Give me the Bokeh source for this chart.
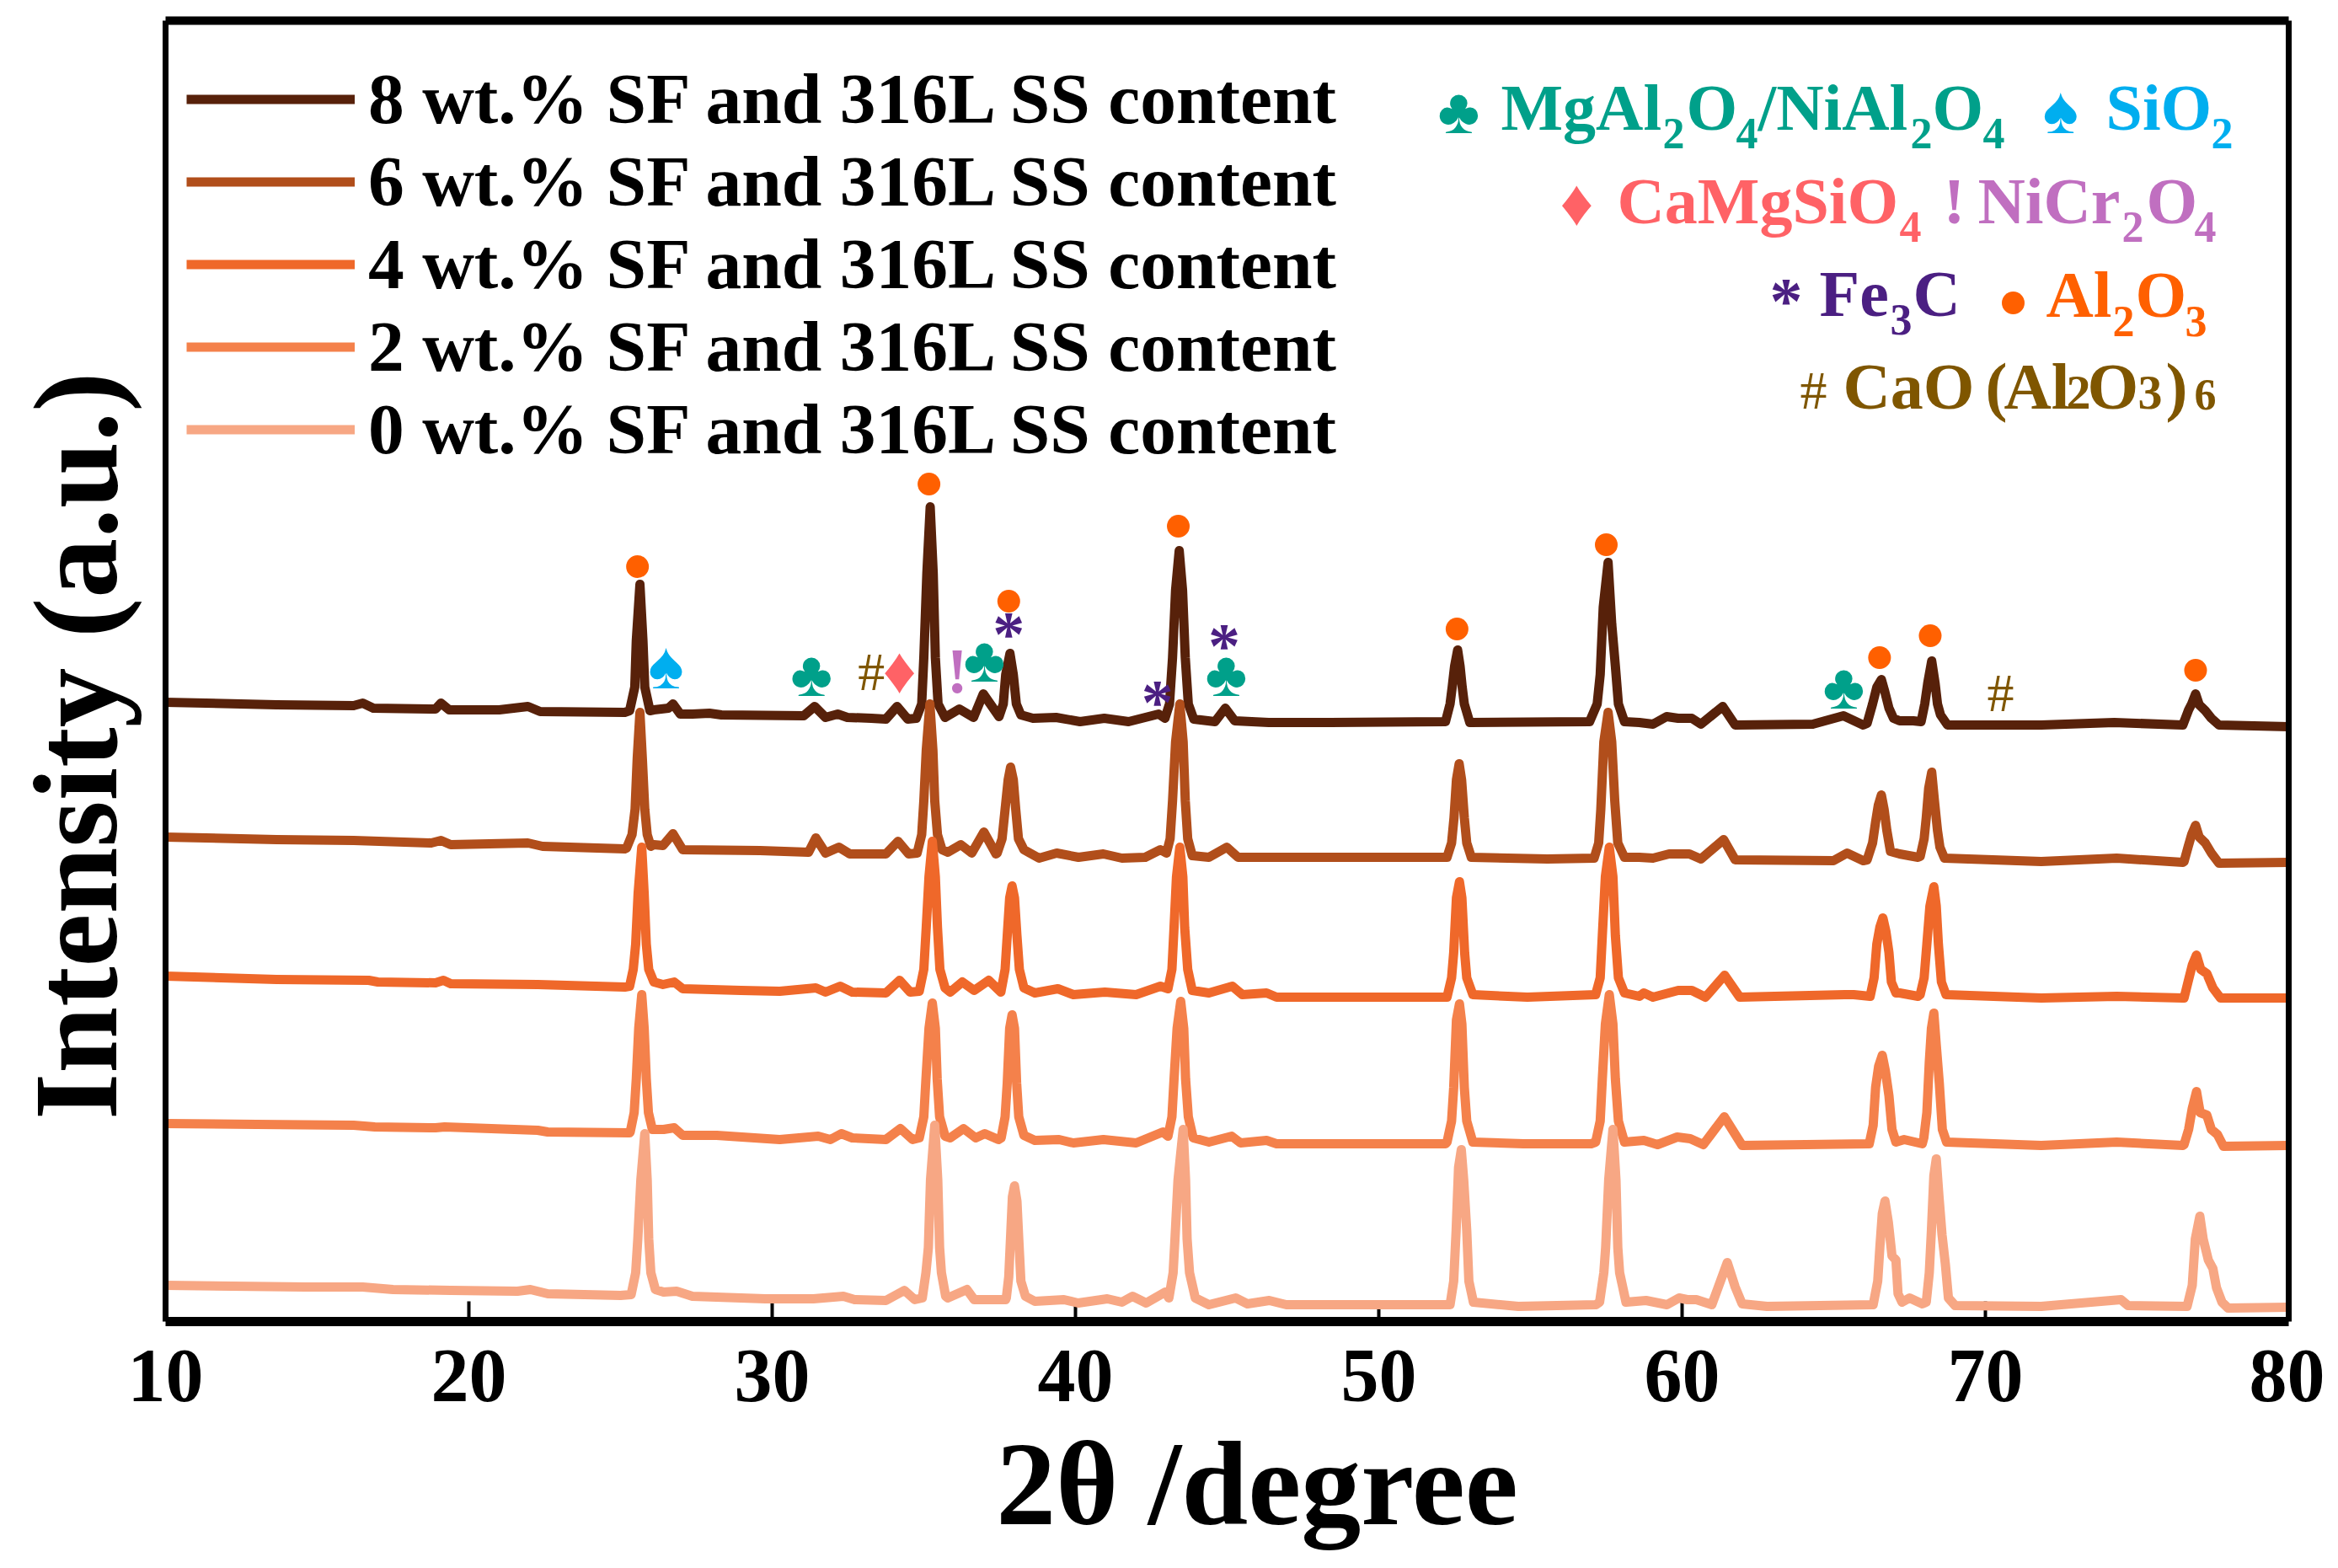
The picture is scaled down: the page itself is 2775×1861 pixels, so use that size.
from bokeh.plotting import figure
from bokeh.models import Range1d, FixedTicker, LinearAxis, Legend, LegendItem
from bokeh.core.properties import value
from bokeh.embed import file_html
from bokeh.resources import INLINE

SERIF = "Liberation Serif"

labels = ["8 wt.% SF and 316L SS content", "6 wt.% SF and 316L SS content",
          "4 wt.% SF and 316L SS content", "2 wt.% SF and 316L SS content",
          "0 wt.% SF and 316L SS content"]
colors = ["#57210A", "#B14E1B", "#EF682A", "#F4814B", "#F7A784"]
x_ticks = [10, 20, 30, 40, 50, 60, 70, 80]

series_8 = [(10, 735), (13.66, 732), (16.2, 731), (16.5, 734), (16.85, 728), (18.9, 727), (19.08, 734), (19.35, 726),
            (21.0, 726), (21.95, 730), (22.35, 724), (25.14, 723), (25.3, 725), (25.47, 753), (25.52, 808), (25.64, 875),
            (25.74, 808), (25.8, 753), (25.97, 725), (26.1, 726), (26.58, 728), (26.73, 733), (26.97, 721), (27.37, 721),
            (27.93, 722), (28.33, 720), (31.04, 719), (31.4, 730), (31.76, 717), (32.16, 721), (32.48, 717), (33.27, 716),
            (33.75, 715), (34.12, 730), (34.47, 715), (34.75, 716), (34.93, 733), (35.0, 788), (35.1, 888), (35.21, 967),
            (35.31, 888), (35.38, 788), (35.47, 733), (35.7, 717), (36.17, 727), (36.64, 717), (36.96, 745), (37.48, 718),
            (37.62, 733), (37.7, 768), (37.84, 793), (37.95, 768), (38.05, 733), (38.2, 720), (38.6, 716), (39.36, 717),
            (40.15, 712), (40.95, 716), (41.75, 712), (42.74, 721), (42.95, 716), (43.1, 733), (43.2, 788), (43.3, 868),
            (43.42, 915), (43.53, 868), (43.62, 788), (43.72, 733), (43.9, 715), (44.6, 712), (44.94, 728), (45.25, 713),
            (46.37, 711), (48.4, 711), (52.2, 712), (52.35, 733), (52.42, 753), (52.5, 778), (52.6, 797), (52.68, 778),
            (52.75, 753), (52.82, 733), (53.0, 711), (56.95, 712), (57.2, 733), (57.3, 768), (57.4, 848), (57.56, 901),
            (57.68, 828), (57.8, 778), (57.9, 733), (58.1, 712), (58.59, 711), (59.04, 709), (59.49, 718), (59.87, 716),
            (60.32, 716), (60.62, 709), (61.34, 730), (61.75, 708), (64.31, 709), (65.32, 719), (65.97, 708), (66.1, 710),
            (66.28, 733), (66.42, 753), (66.57, 762), (66.68, 748), (66.82, 728), (66.97, 716), (67.17, 713), (67.62, 713),
            (67.88, 712), (68.0, 733), (68.1, 758), (68.23, 784), (68.34, 758), (68.42, 733), (68.52, 720), (68.75, 708),
            (71.84, 708), (74.25, 711), (76.51, 708), (76.7, 726), (76.8, 733), (76.93, 745), (77.05, 732), (77.25, 725),
            (77.45, 716), (77.7, 708), (80, 706)]

series_6 = [(10, 575), (13.66, 572), (16.2, 571), (18.76, 568), (19.08, 571), (19.4, 566), (21.95, 568), (22.43, 564),
            (25.14, 561), (25.2, 562), (25.38, 578), (25.48, 608), (25.55, 668), (25.64, 723), (25.72, 668), (25.8, 608),
            (25.88, 578), (26.0, 564), (26.1, 566), (26.4, 565), (26.73, 579), (27.05, 560), (29.6, 559), (31.2, 557),
            (31.44, 574), (31.76, 556), (32.2, 563), (32.56, 555), (33.75, 555), (34.15, 570), (34.5, 555), (34.78, 556),
            (34.93, 578), (35.0, 618), (35.08, 678), (35.2, 733), (35.3, 678), (35.36, 618), (35.45, 578), (35.6, 560),
            (35.79, 557), (36.22, 566), (36.58, 556), (36.98, 581), (37.38, 555), (37.42, 556), (37.58, 573), (37.68, 608),
            (37.78, 643), (37.86, 658), (37.95, 643), (38.03, 608), (38.12, 573), (38.3, 560), (38.8, 550), (39.38, 556),
            (40.1, 551), (40.92, 555), (41.53, 550), (42.3, 551), (42.8, 560), (43.0, 556), (43.12, 573), (43.2, 618),
            (43.3, 688), (43.44, 733), (43.55, 688), (43.62, 618), (43.7, 573), (43.85, 553), (44.4, 551), (44.99, 563),
            (45.36, 551), (46.3, 551), (52.25, 551), (52.4, 568), (52.48, 598), (52.56, 643), (52.65, 662), (52.73, 643),
            (52.82, 598), (52.9, 568), (53.05, 551), (55.56, 549), (57.1, 550), (57.25, 568), (57.32, 608), (57.42, 688),
            (57.56, 723), (57.68, 688), (57.78, 618), (57.88, 568), (58.1, 551), (58.59, 551), (59.04, 550), (59.57, 555),
            (60.24, 555), (60.62, 549), (61.37, 572), (61.75, 548), (64.99, 547), (65.44, 556), (65.97, 547), (66.1, 548),
            (66.28, 568), (66.38, 593), (66.47, 613), (66.57, 625), (66.66, 608), (66.75, 583), (66.87, 558), (67.17, 555),
            (67.78, 551), (67.85, 552), (67.98, 573), (68.05, 598), (68.13, 633), (68.23, 652), (68.32, 618), (68.42, 583),
            (68.5, 563), (68.65, 550), (71.84, 546), (74.33, 550), (76.51, 545), (76.55, 546), (76.68, 563), (76.8, 578),
            (76.93, 589), (77.05, 575), (77.25, 568), (77.45, 556), (77.7, 544), (80, 545)]

series_4 = [(10, 410), (13.66, 406), (16.7, 405), (17, 403), (18.9, 402), (19.16, 405), (19.4, 401), (22.27, 400),
            (25.14, 397), (25.3, 398), (25.42, 418), (25.5, 448), (25.58, 508), (25.7, 563), (25.78, 508), (25.85, 448),
            (25.93, 418), (26.1, 403), (26.4, 400), (26.77, 403), (27.05, 395), (28.97, 393), (30.25, 392), (31.44, 396),
            (31.76, 391), (32.24, 398), (32.64, 391), (33.75, 390), (34.2, 405), (34.55, 391), (34.85, 392), (35.0, 418),
            (35.08, 468), (35.17, 528), (35.28, 570), (35.38, 528), (35.45, 468), (35.53, 418), (35.7, 396), (35.87, 391),
            (36.27, 403), (36.66, 393), (37.14, 405), (37.54, 391), (37.55, 393), (37.68, 418), (37.75, 458), (37.83, 503),
            (37.91, 517), (37.99, 503), (38.07, 458), (38.15, 418), (38.3, 396), (38.66, 390), (39.42, 395), (39.93, 388),
            (40.97, 391), (42, 388), (42.8, 398), (43.05, 395), (43.18, 418), (43.25, 468), (43.33, 528), (43.44, 563),
            (43.54, 528), (43.6, 468), (43.7, 418), (43.85, 393), (44.4, 390), (45.17, 398), (45.5, 388), (46.3, 390),
            (46.63, 385), (52.2, 385), (52.25, 385), (52.4, 408), (52.47, 438), (52.56, 503), (52.66, 522), (52.74, 503),
            (52.83, 438), (52.9, 408), (53.1, 388), (54.9, 385), (57.15, 388), (57.3, 408), (57.37, 458), (57.47, 528),
            (57.6, 563), (57.72, 528), (57.8, 458), (57.9, 408), (58.1, 390), (58.59, 386), (58.74, 390), (59.04, 385),
            (59.87, 393), (60.32, 393), (60.77, 385), (61.4, 411), (61.9, 385), (65.36, 388), (65.66, 388), (66.2, 386),
            (66.33, 408), (66.42, 448), (66.52, 468), (66.62, 479), (66.72, 463), (66.82, 438), (66.9, 403), (67.05, 390),
            (67.17, 390), (67.78, 386), (67.85, 388), (67.98, 408), (68.07, 448), (68.17, 493), (68.3, 516), (68.38, 493),
            (68.45, 448), (68.55, 403), (68.7, 388), (71.84, 384), (74.33, 386), (76.51, 384), (76.55, 384), (76.68, 403),
            (76.82, 423), (76.96, 435), (77.1, 418), (77.3, 413), (77.5, 396), (77.75, 384), (80, 384)]

series_2 = [(10, 235), (13, 234), (16.2, 233), (16.9, 231), (18.9, 230), (19.2, 231), (22.27, 227), (22.6, 225),
            (25.3, 224), (25.32, 225), (25.45, 248), (25.52, 288), (25.6, 348), (25.7, 388), (25.78, 348), (25.85, 288),
            (25.92, 248), (26.05, 228), (26.42, 228), (26.77, 230), (27.05, 221), (28.17, 221), (30.25, 216), (31.52, 220),
            (31.92, 216), (32.28, 223), (32.64, 218), (33.75, 216), (34.23, 229), (34.63, 216), (34.85, 218), (35.0, 243),
            (35.07, 288), (35.17, 348), (35.28, 378), (35.38, 348), (35.44, 288), (35.52, 243), (35.7, 220), (35.87, 218),
            (36.31, 229), (36.71, 218), (37.01, 223), (37.46, 216), (37.55, 218), (37.68, 243), (37.75, 283), (37.83, 348),
            (37.91, 364), (37.99, 348), (38.06, 283), (38.13, 243), (38.3, 221), (38.66, 215), (39.46, 216), (39.93, 212),
            (40.92, 216), (42, 212), (42.88, 225), (43.05, 220), (43.18, 243), (43.25, 288), (43.35, 348), (43.47, 380),
            (43.57, 348), (43.63, 288), (43.72, 243), (43.88, 218), (44.4, 213), (45.15, 220), (45.44, 212), (46.3, 215),
            (46.63, 211), (52.2, 211), (52.25, 213), (52.4, 238), (52.47, 278), (52.56, 358), (52.66, 377), (52.74, 353),
            (52.82, 278), (52.9, 238), (53.1, 213), (54.77, 211), (57.0, 211), (57.15, 213), (57.3, 238), (57.37, 288),
            (57.47, 353), (57.6, 388), (57.72, 353), (57.8, 288), (57.9, 238), (58.1, 213), (58.74, 215), (59.19, 210),
            (59.84, 219), (60.27, 217), (60.7, 210), (61.39, 243), (61.98, 209), (66.17, 211), (66.3, 233), (66.38, 278),
            (66.48, 303), (66.6, 316), (66.7, 298), (66.82, 268), (66.92, 228), (67.05, 213), (67.32, 216), (67.92, 211),
            (67.97, 218), (68.07, 248), (68.15, 308), (68.22, 348), (68.3, 366), (68.38, 328), (68.48, 283), (68.58, 228),
            (68.72, 213), (71.84, 209), (74.33, 213), (76.51, 209), (76.55, 210), (76.7, 228), (76.82, 253), (76.96, 273),
            (77.08, 248), (77.3, 245), (77.45, 228), (77.65, 222), (77.85, 208), (80, 209)]

series_0 = [(10, 43), (14.6, 41), (16.5, 41), (17.5, 38), (19.4, 37), (21.6, 36), (22.03, 38), (22.6, 33), (25, 31),
            (25.35, 32), (25.5, 58), (25.57, 98), (25.67, 168), (25.8, 223), (25.88, 168), (25.93, 98), (26, 58),
            (26.15, 38), (26.42, 35), (26.85, 36), (27.37, 30), (29.77, 27), (31.36, 27), (32.35, 30), (32.72, 26),
            (33.75, 25), (34.36, 37), (34.7, 26), (34.95, 28), (35.07, 58), (35.15, 88), (35.22, 168), (35.36, 233),
            (35.46, 168), (35.52, 88), (35.58, 58), (35.72, 30), (35.79, 28), (36.42, 38), (36.66, 26), (37.7, 26),
            (37.72, 28), (37.8, 53), (37.87, 108), (37.92, 148), (37.99, 161), (38.07, 143), (38.13, 98), (38.2, 48),
            (38.35, 30), (38.66, 24), (39.62, 26), (40.09, 22), (41.05, 27), (41.53, 23), (41.88, 30), (42.33, 22),
            (42.96, 35), (43.08, 28), (43.22, 58), (43.28, 98), (43.38, 168), (43.55, 228), (43.63, 168), (43.68, 98),
            (43.76, 58), (43.95, 28), (44.4, 20), (45.28, 28), (45.67, 21), (46.39, 25), (46.95, 20), (52.35, 20),
            (52.47, 48), (52.55, 108), (52.63, 183), (52.72, 204), (52.8, 168), (52.9, 108), (52.97, 48), (53.12, 23),
            (54.6, 18), (57.16, 20), (57.28, 23), (57.42, 58), (57.48, 88), (57.58, 168), (57.72, 228), (57.82, 168),
            (57.88, 88), (57.94, 58), (58.15, 23), (58.81, 25), (59.5, 20), (59.9, 28), (60.17, 26), (60.47, 26),
            (60.98, 20), (61.49, 70), (61.75, 41), (61.98, 21), (62.8, 18), (66.3, 20), (66.45, 48), (66.52, 88),
            (66.6, 128), (66.69, 143), (66.8, 118), (66.92, 78), (67.05, 73), (67.12, 33), (67.25, 23), (67.5, 28),
            (67.92, 21), (68.05, 23), (68.15, 58), (68.22, 108), (68.3, 173), (68.38, 193), (68.47, 148), (68.57, 103),
            (68.68, 68), (68.78, 28), (69, 19), (71.84, 18), (74.47, 26), (74.7, 19), (76.65, 18), (76.82, 43),
            (76.92, 98), (77.07, 125), (77.18, 98), (77.35, 73), (77.5, 63), (77.62, 40), (77.8, 23), (78, 16), (80, 17)]

all_series = [series_8, series_6, series_4, series_2, series_0]

# peak markers: phase symbol, then (2-theta, intensity at the symbol's foot)
al2o3_marks = [(25.56, 896), (35.17, 994), (37.8, 855), (43.39, 944), (52.58, 822), (57.5, 922), (66.51, 788),
               (68.18, 814), (76.93, 773)]
club_marks = [(31.3, 740), (37.0, 757), (44.97, 740), (65.33, 725)]
spade_marks = [(26.5, 749)]
diamond_marks = [(34.2, 744)]
hash_marks = [(33.27, 747), (70.5, 722)]
bang_marks = [(36.1, 744)]
star_marks = [(37.8, 788), (44.9, 774), (42.7, 707)]

TEAL, BLUE, SALMON, PINK, VIOLET, ORANGE, OCHRE = "#00A08A", "#00AEEF", "#FF6266", "#C06FC0", "#4B1F82", "#FF6000", "#7F5600"

p = figure(width=2759, height=1845, output_backend="svg", toolbar_location=None,
           x_range=Range1d(10, 80), y_range=Range1d(0, 1544),
           min_border_left=196, min_border_right=43, min_border_top=24, min_border_bottom=277,
           background_fill_color="white", border_fill_color="white")
p.outline_line_color = None
p.grid.visible = False
p.xaxis.visible = False
p.yaxis.visible = False


def frame_axis(side, width, ticks=(), **kw):
    ax = LinearAxis(ticker=FixedTicker(ticks=list(ticks)), axis_line_width=width, axis_line_color="black",
                    major_tick_line_color="black", minor_tick_line_color=None,
                    major_label_text_font=SERIF, major_label_text_font_style="bold",
                    axis_label_text_font=SERIF, axis_label_text_font_style="bold", axis_label_text_color="black",
                    major_label_text_color="black", **kw)
    p.add_layout(ax, side)
    return ax


NB = "\u00a0"
frame_axis("below", 11, x_ticks, major_tick_in=0, major_tick_out=0,
           major_label_text_font_size="90px", major_label_standoff=34,
           axis_label=NB * 2 + "2θ /degree", axis_label_text_font_size="142px", axis_label_standoff=16)
frame_axis("left", 7, major_tick_in=0, major_tick_out=0, major_label_text_font_size="0px",
           axis_label="Intensity (a.u.)" + NB * 5, axis_label_text_font_size="142px", axis_label_standoff=28)
frame_axis("above", 10, major_tick_in=0, major_tick_out=0, major_label_text_font_size="0px")
frame_axis("right", 7, major_tick_in=0, major_tick_out=0, major_label_text_font_size="0px")

# the inward ticks lie beneath the traces, so they get their own axis under the glyph level
p.add_layout(LinearAxis(ticker=FixedTicker(ticks=x_ticks), fixed_location=0, level="underlay", axis_line_color=None,
                        major_tick_in=24, major_tick_out=0, major_tick_line_width=4, major_tick_line_color="black",
                        minor_tick_line_color=None, major_label_text_color=None, major_label_text_font_size="0px"),
             "below")

items = []
for label, color, pts in zip(labels, colors, all_series):
    r = p.line([a for a, _ in pts], [b for _, b in pts], line_color=color, line_width=11, line_join="round")
    items.append(LegendItem(label=label, renderers=[r]))

legend = Legend(items=items, location=(25, 1010), orientation="vertical", glyph_width=200, glyph_height=97,
                label_height=97, spacing=0, padding=0, margin=0, label_standoff=16,
                label_text_font=SERIF, label_text_font_style="bold", label_text_font_size="85.5px",
                label_text_color="black", background_fill_alpha=0, border_line_color=None)
p.add_layout(legend)


def deg(px):
    return 10 + (px - 196) / 36


def au(py):
    return 1568 - py


BASELINE_LIFT = 0.37   # Bokeh's "alphabetic" text sits this fraction of the font size below the anchor


def put(txt, pts, size, color, style="bold", font=SERIF, align="center"):
    p.text([a for a, _ in pts], [b + BASELINE_LIFT * size for _, b in pts], text=[txt] * len(pts), text_font=value(font),
           text_font_size=f"{size}px", text_font_style=style, text_color=color, text_align=align,
           text_baseline="alphabetic")


p.scatter([a for a, _ in al2o3_marks], [b for _, b in al2o3_marks], marker="circle", size=27,
          fill_color=ORANGE, line_color=None)
put("♣", club_marks, 76, TEAL)
put("♠", spade_marks, 80, BLUE)
put("♦", diamond_marks, 78, SALMON)
put("#", hash_marks, 64, OCHRE, style="normal")
put("!", bang_marks, 76, PINK)
put("*", star_marks, 76, VIOLET)

# phase key, upper right: run text, left edge, baseline, size, colour
key_runs = [
    ("♣", 1706, 160, 76, TEAL), ("MgAl", 1781, 156, 78, TEAL), ("2", 1973, 177, 52, TEAL), ("O", 2001, 156, 78, TEAL),
    ("4", 2060, 177, 52, TEAL), ("/NiAl", 2086, 156, 78, TEAL), ("2", 2267, 177, 52, TEAL), ("O", 2293, 156, 78, TEAL),
    ("4", 2353, 177, 52, TEAL), ("♠", 2424, 160, 80, BLUE), ("SiO", 2499, 156, 78, BLUE), ("2", 2624, 177, 52, BLUE),
    ("♦", 1851, 269, 78, SALMON), ("CaMgSiO", 1919, 267, 78, SALMON), ("4", 2254, 288, 52, SALMON),
    ("!", 2306, 267, 78, PINK), ("NiCr", 2347, 267, 78, PINK), ("2", 2518, 288, 52, PINK), ("O", 2547, 267, 78, PINK),
    ("4", 2604, 288, 52, PINK),
    ("*", 2100, 385, 78, VIOLET), ("Fe", 2159, 377, 78, VIOLET), ("3", 2243, 398, 52, VIOLET), ("C", 2270, 377, 78, VIOLET),
    ("Al", 2428, 378, 78, ORANGE), ("2", 2507, 400, 52, ORANGE), ("O", 2534, 378, 78, ORANGE), ("3", 2593, 400, 52, ORANGE),
    ("#", 2136, 487, 64, OCHRE), ("CaO", 2187, 487, 78, OCHRE), ("(", 2356, 487, 78, OCHRE), ("Al", 2378, 487, 78, OCHRE),
    ("2", 2452, 487, 58, OCHRE), ("O", 2477, 487, 78, OCHRE), ("3", 2537, 487, 58, OCHRE), (")", 2570, 487, 78, OCHRE),
    ("6", 2604, 487, 52, OCHRE),
]
for txt, px, py, size, color in key_runs:
    put(txt, [(deg(px), au(py))], size, color, style="normal" if txt == "#" else "bold", align="left")
p.scatter([deg(2389)], [au(359)], marker="circle", size=27, fill_color=ORANGE, line_color=None)

open("out.html", "w").write(file_html(p, INLINE))
